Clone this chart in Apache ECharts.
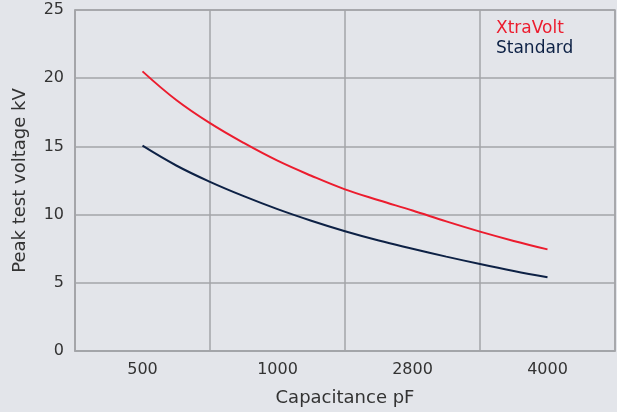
<!DOCTYPE html>
<html><head><meta charset="utf-8">
<script src="https://cdn.jsdelivr.net/npm/echarts@6/dist/echarts.min.js"></script>
<style>html,body{margin:0;padding:0;background:#e3e5ea;}#c{width:617px;height:412px;}</style>
</head><body><div id="c"></div>
<script>
const categories = ['500', '1000', '2800', '4000'];
// positions along the category band (0..4, category centres at 0.5, 1.5, 2.5, 3.5)
const samplePos = [0.5, 0.75, 1.0, 1.25, 1.5, 1.75, 2.0, 2.25, 2.5, 2.75, 3.0, 3.25, 3.5];
const xtraVolt = [20.5, 18.4, 16.7, 15.25, 13.95, 12.85, 11.85, 11.05, 10.3, 9.5, 8.75, 8.07, 7.45];
const standard = [15.05, 13.6, 12.4, 11.35, 10.4, 9.55, 8.78, 8.1, 7.5, 6.92, 6.38, 5.87, 5.4];
const yTicks = {min: 0, max: 25, interval: 5};

const font = '"DejaVu Sans", sans-serif';
const pair = (ys) => samplePos.map((x, i) => [x, ys[i]]);
const chart = echarts.init(document.getElementById('c'));
chart.setOption({
  backgroundColor: '#e3e5ea',
  animation: false,
  textStyle: {fontFamily: font},
  grid: {left: 75, right: 2, top: 10, bottom: 60, show: true, borderColor: '#a3a4a8', borderWidth: 1.5},
  legend: {
    orient: 'vertical', left: 486, top: 15, itemGap: 3, icon: 'none', itemWidth: 0, itemHeight: 0,
    textStyle: {fontSize: 17, fontFamily: font},
    data: [
      {name: 'XtraVolt', textStyle: {color: '#ec1c2e'}},
      {name: 'Standard', textStyle: {color: '#0d2145'}}
    ]
  },
  xAxis: [
    {
      type: 'category', data: categories, boundaryGap: true,
      name: 'Capacitance pF', nameLocation: 'middle', nameGap: 38,
      nameTextStyle: {fontSize: 18, color: '#333', fontFamily: font},
      axisLine: {lineStyle: {color: '#a3a4a8', width: 1.5}},
      axisTick: {show: false},
      axisLabel: {fontSize: 16, color: '#333', margin: 11},
      splitLine: {show: true, lineStyle: {color: '#a3a4a8', width: 1.5}}
    },
    {type: 'value', min: 0, max: 4, show: false}
  ],
  yAxis: {
    type: 'value', min: yTicks.min, max: yTicks.max, interval: yTicks.interval,
    name: 'Peak test voltage kV', nameLocation: 'middle', nameGap: 46,
    nameTextStyle: {fontSize: 18, color: '#333', fontFamily: font},
    axisLine: {show: true, lineStyle: {color: '#a3a4a8', width: 1.5}},
    axisTick: {show: false},
    axisLabel: {fontSize: 16, color: '#333', margin: 11},
    splitLine: {lineStyle: {color: '#a3a4a8', width: 1.5}}
  },
  series: [
    {name: 'XtraVolt', type: 'line', xAxisIndex: 1, data: pair(xtraVolt), smooth: 0.4, showSymbol: false,
     lineStyle: {color: '#ec1c2e', width: 2}, itemStyle: {color: '#ec1c2e'}},
    {name: 'Standard', type: 'line', xAxisIndex: 1, data: pair(standard), smooth: 0.4, showSymbol: false,
     lineStyle: {color: '#0d2145', width: 2}, itemStyle: {color: '#0d2145'}}
  ]
});
</script></body></html>
